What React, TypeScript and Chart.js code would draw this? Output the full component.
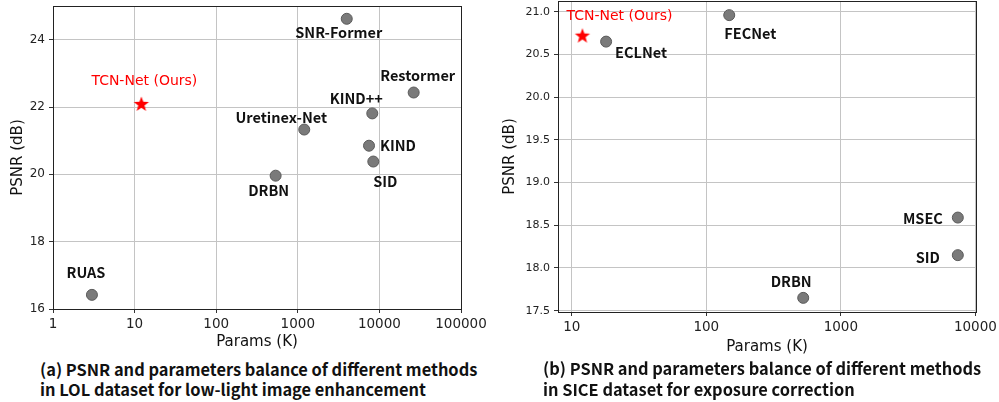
import React, { useEffect, useRef } from 'react';
import { Chart, registerables } from 'chart.js';

Chart.register(...registerables);

// ---------- (a) LOL dataset ----------
const lolMethods = ['RUAS', 'DRBN', 'Uretinex-Net', 'KIND', 'SID', 'KIND++', 'SNR-Former', 'Restormer'];
const lolParams = [3, 535, 1200, 7460, 8420, 8180, 3980, 26300];
const lolPsnr = [16.42, 19.96, 21.33, 20.85, 20.38, 21.81, 24.62, 22.43];
const lolOursParams = [12.1];
const lolOursPsnr = [22.09];
const lolXTicks = [1, 10, 100, 1000, 10000, 100000];
const lolYTicks = [16, 18, 20, 22, 24];

// ---------- (b) SICE dataset ----------
const siceMethods = ['ECLNet', 'FECNet', 'DRBN', 'SID', 'MSEC'];
const siceParams = [18, 148, 525, 7400, 7400];
const sicePsnr = [20.65, 20.96, 17.65, 18.15, 18.59];
const siceOursParams = [12];
const siceOursPsnr = [20.72];
const siceXTicks = [10, 100, 1000, 10000];
const siceYTicks = [17.5, 18.0, 18.5, 19.0, 19.5, 20.0, 20.5, 21.0];

const oursName = 'TCN-Net (Ours)';
const xTitle = 'Params (K)';
const yTitle = 'PSNR (dB)';
const captionA = '(a) PSNR and parameters balance of different methods\nin LOL dataset for low-light image enhancement';
const captionB = '(b) PSNR and parameters balance of different methods\nin SICE dataset for exposure correction';

// label placement (pixel offsets from the marker): [dx, dy, align]
type LabelPos = [number, number, CanvasTextAlign];
const lolLabelPos: Record<string, LabelPos> = {
  RUAS: [-6, -22, 'center'],
  DRBN: [-7, 15, 'center'],
  'Uretinex-Net': [-23, -12, 'center'],
  KIND: [11, 0, 'left'],
  SID: [12, 20, 'center'],
  'KIND++': [-16, -15, 'center'],
  'SNR-Former': [-8, 14, 'center'],
  Restormer: [4, -17, 'center'],
};
const lolOursPos: LabelPos = [3, -23, 'center'];
const siceLabelPos: Record<string, LabelPos> = {
  ECLNet: [9, 11, 'left'],
  FECNet: [-5, 18, 'left'],
  DRBN: [-12, -16, 'center'],
  SID: [-18, 2, 'right'],
  MSEC: [-15, 1, 'right'],
};
const siceOursPos: LabelPos = [37, -19, 'center'];

function makeStar(): HTMLCanvasElement {
  const c = document.createElement('canvas');
  c.width = 18;
  c.height = 18;
  const ctx = c.getContext('2d')!;
  const cx = 9, cy = 9.5, ro = 8, ri = 3.3;
  ctx.beginPath();
  for (let i = 0; i < 10; i++) {
    const r = i % 2 === 0 ? ro : ri;
    const a = -Math.PI / 2 + (i * Math.PI) / 5;
    const x = cx + r * Math.cos(a);
    const y = cy + r * Math.sin(a);
    if (i === 0) ctx.moveTo(x, y);
    else ctx.lineTo(x, y);
  }
  ctx.closePath();
  ctx.fillStyle = '#ff0000';
  ctx.fill();
  return c;
}

interface Cfg {
  names: string[];
  params: number[];
  psnr: number[];
  oursParams: number[];
  oursPsnr: number[];
  xMin: number;
  xMax: number;
  yMin: number;
  yMax: number;
  xTicks: number[];
  yTicks: number[];
  yDecimals: number;
  yAxisWidth: number;
  xAxisHeight: number;
  padTop: number;
  padRight: number;
  yTitlePad: number;
  yTickFont: number;
  labelPos: Record<string, LabelPos>;
  oursPos: LabelPos;
}

const labelFont = 'bold 14.5px "Noto Sans CJK SC", "Noto Sans", sans-serif';
const oursFont = '14px "DejaVu Sans", sans-serif';

function buildChart(canvas: HTMLCanvasElement, cfg: Cfg) {
  const star = makeStar();
  const labelPlugin = {
    id: 'pointLabels',
    afterDatasetsDraw(chart: any) {
      const ctx = chart.ctx;
      ctx.save();
      ctx.textBaseline = 'middle';
      const m0 = chart.getDatasetMeta(0);
      m0.data.forEach((el: any, i: number) => {
        const name = cfg.names[i];
        const p = cfg.labelPos[name] || [0, -15, 'center'];
        ctx.font = labelFont;
        ctx.fillStyle = '#111';
        ctx.textAlign = p[2];
        ctx.fillText(name, el.x + p[0], el.y + p[1]);
      });
      const m1 = chart.getDatasetMeta(1);
      m1.data.forEach((el: any) => {
        const p = cfg.oursPos;
        ctx.font = oursFont;
        ctx.fillStyle = '#ff0000';
        ctx.textAlign = p[2];
        ctx.fillText(oursName, el.x + p[0], el.y + p[1]);
      });
      ctx.restore();
    },
  };
  const framePlugin = {
    id: 'frame',
    beforeDatasetsDraw(chart: any) {
      const { left, top, right, bottom } = chart.chartArea;
      const ctx = chart.ctx;
      ctx.save();
      ctx.strokeStyle = '#222';
      ctx.lineWidth = 1;
      ctx.strokeRect(Math.round(left) + 0.5, Math.round(top) + 0.5, Math.round(right - left), Math.round(bottom - top));
      ctx.restore();
    },
  };

  return new Chart(canvas, {
    type: 'scatter',
    data: {
      datasets: [
        {
          data: cfg.params.map((x, i) => ({ x, y: cfg.psnr[i] })),
          backgroundColor: '#7a7a7a',
          borderColor: '#5a5a5a',
          borderWidth: 1,
          pointRadius: 5.5,
        },
        {
          data: cfg.oursParams.map((x, i) => ({ x, y: cfg.oursPsnr[i] })),
          pointStyle: star as any,
          pointRadius: 8,
        },
      ],
    },
    options: {
      responsive: false,
      animation: false,
      devicePixelRatio: 1,
      layout: { autoPadding: false, padding: { top: cfg.padTop, right: cfg.padRight, left: 0, bottom: 0 } },
      plugins: { legend: { display: false }, tooltip: { enabled: false }, title: { display: false } },
      scales: {
        x: {
          type: 'logarithmic',
          min: cfg.xMin,
          max: cfg.xMax,
          afterBuildTicks: (s: any) => {
            s.ticks = cfg.xTicks.map((v) => ({ value: v }));
          },
          afterFit: (s: any) => {
            s.height = cfg.xAxisHeight;
            s.paddingLeft = 0;
            s.paddingRight = 0;
          },
          ticks: {
            autoSkip: false,
            maxRotation: 0,
            padding: 3,
            color: '#222',
            font: { family: '"DejaVu Sans", sans-serif', size: 13.5 },
            callback: (v: any) => String(v),
          },
          grid: { color: '#c4c4c4', lineWidth: 1, tickLength: 4, tickColor: '#333', drawTicks: true },
          border: { display: false },
          title: {
            display: true,
            text: xTitle,
            color: '#111',
            font: { family: '"DejaVu Sans", sans-serif', size: 15 },
            padding: { top: 0, bottom: 1 },
          },
        },
        y: {
          type: 'linear',
          min: cfg.yMin,
          max: cfg.yMax,
          afterBuildTicks: (s: any) => {
            s.ticks = cfg.yTicks.map((v) => ({ value: v }));
          },
          afterFit: (s: any) => {
            s.width = cfg.yAxisWidth;
            s.paddingTop = 0;
            s.paddingBottom = 0;
          },
          ticks: {
            autoSkip: false,
            padding: 4,
            color: '#222',
            font: { family: '"DejaVu Sans", sans-serif', size: cfg.yTickFont },
            callback: (v: any) => Number(v).toFixed(cfg.yDecimals),
          },
          grid: { color: '#c4c4c4', lineWidth: 1, tickLength: 4, tickColor: '#333', drawTicks: true },
          border: { display: false },
          title: {
            display: true,
            text: yTitle,
            color: '#111',
            font: { family: '"DejaVu Sans", sans-serif', size: 15 },
            padding: { top: cfg.yTitlePad, bottom: 0 },
          },
        },
      },
    },
    plugins: [framePlugin, labelPlugin],
  } as any);
}

function ChartPanel(props: { cfg: Cfg; left: number; width: number; height: number }) {
  const ref = useRef<HTMLCanvasElement | null>(null);
  useEffect(() => {
    if (!ref.current) return;
    const ch = buildChart(ref.current, props.cfg);
    return () => ch.destroy();
  }, []);
  return (
    <canvas
      ref={ref}
      width={props.width}
      height={props.height}
      style={{ position: 'absolute', left: props.left, top: 0, width: props.width, height: props.height }}
    />
  );
}

const cfgA: Cfg = {
  names: lolMethods,
  params: lolParams,
  psnr: lolPsnr,
  oursParams: lolOursParams,
  oursPsnr: lolOursPsnr,
  xMin: 1,
  xMax: 100000,
  yMin: 16,
  yMax: 25,
  xTicks: lolXTicks,
  yTicks: lolYTicks,
  yDecimals: 0,
  yAxisWidth: 53,
  xAxisHeight: 43,
  padTop: 6,
  padRight: 34,
  yTitlePad: 9,
  yTickFont: 12,
  labelPos: lolLabelPos,
  oursPos: lolOursPos,
};

const cfgB: Cfg = {
  names: siceMethods,
  params: siceParams,
  psnr: sicePsnr,
  oursParams: siceOursParams,
  oursPsnr: siceOursPsnr,
  xMin: 7.9,
  xMax: 10100,
  yMin: 17.4845,
  yMax: 21.1255,
  xTicks: siceXTicks,
  yTicks: siceYTicks,
  yDecimals: 1,
  yAxisWidth: 58,
  xAxisHeight: 45,
  padTop: 1,
  padRight: 23,
  yTitlePad: 1.3,
  yTickFont: 11,
  labelPos: siceLabelPos,
  oursPos: siceOursPos,
};

const captionStyle: React.CSSProperties = {
  position: 'absolute',
  fontFamily: '"Noto Sans CJK SC", "Noto Sans", sans-serif',
  fontSize: 16.4,
  fontWeight: 'bold',
  color: '#111',
  whiteSpace: 'pre',
  lineHeight: '20.5px',
};

export default function App() {
  return (
    <div style={{ position: 'absolute', left: 0, top: 0, width: 999, height: 402, background: '#fff', overflow: 'hidden' }}>
      <ChartPanel cfg={cfgA} left={0} width={495} height={352} />
      <ChartPanel cfg={cfgB} left={500} width={499} height={357} />
      <div style={{ ...captionStyle, left: 40, top: 358.5 }}>{captionA}</div>
      <div style={{ ...captionStyle, left: 543, top: 358 }}>{captionB}</div>
    </div>
  );
}
